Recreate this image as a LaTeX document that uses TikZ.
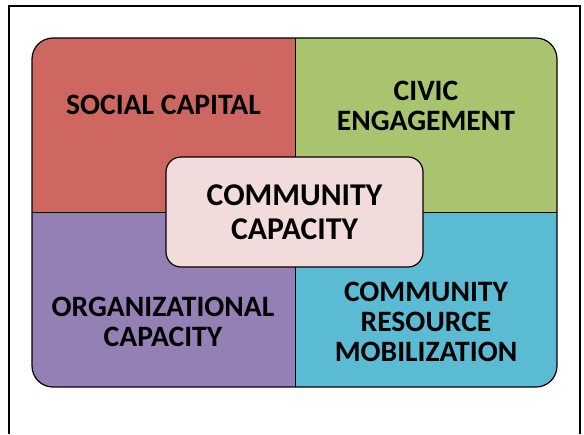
\documentclass[tikz,border=0pt]{standalone}
\usepackage{fontspec}
\setmainfont{Carlito}
\definecolor{socialred}{HTML}{CE6760}
\definecolor{civicgreen}{HTML}{A9C46E}
\definecolor{orgpurple}{HTML}{9580B5}
\definecolor{resblue}{HTML}{5BBBD2}
\definecolor{capink}{HTML}{F1DCDB}
\tikzset{
	rotulo/.style={align=center, inner sep=0pt, font=\fontsize{29.6}{30}\selectfont\bfseries},
	caixa/.style={draw, line width=1.2pt, fill=capink, rounded corners=15pt, align=center,
		minimum width=257pt, minimum height=110pt, font=\fontsize{31.7}{34}\selectfont\bfseries}
}
\begin{document}
\begin{tikzpicture}[x=1pt,y=-1pt]
		\useasboundingbox (0,0) rectangle (584,434);
		\draw[line width=1.5pt] (9,434) -- (9,6) -- (580,6) -- (580,434);	% Moldura

		% Quadrantes
		\begin{scope}
			\clip[rounded corners=21pt] (32,38) rectangle (557,387);
			\fill[socialred]  (32,38)   rectangle (295,212);
			\fill[civicgreen] (295,38)  rectangle (557,212);
			\fill[orgpurple]  (32,212)  rectangle (295,387);
			\fill[resblue]    (295,212) rectangle (557,387);
		\end{scope}
		\draw[line width=1pt] (295,38) -- (295,387);						% Divisoria vertical
		\draw[line width=1pt] (32,212) -- (557,212);						% Divisoria horizontal
		\draw[line width=1.2pt, rounded corners=21pt] (32,38) rectangle (557,387);	% Contorno

		% Rotulos
		\node[rotulo] (social) at (163.5,105) 	{SOCIAL CAPITAL};
		\node[rotulo] (civic)  at (426,105.5) 	{CIVIC\\ENGAGEMENT};
		\node[rotulo] (org)    at (163,322) 	{ORGANIZATIONAL\\CAPACITY};
		\node[rotulo] (res)    at (426,322) 	{COMMUNITY\\RESOURCE\\MOBILIZATION};

		% Centro
		\node[caixa] (cap) at (294.5,212) {COMMUNITY\\CAPACITY};
	\end{tikzpicture}
\end{document}
